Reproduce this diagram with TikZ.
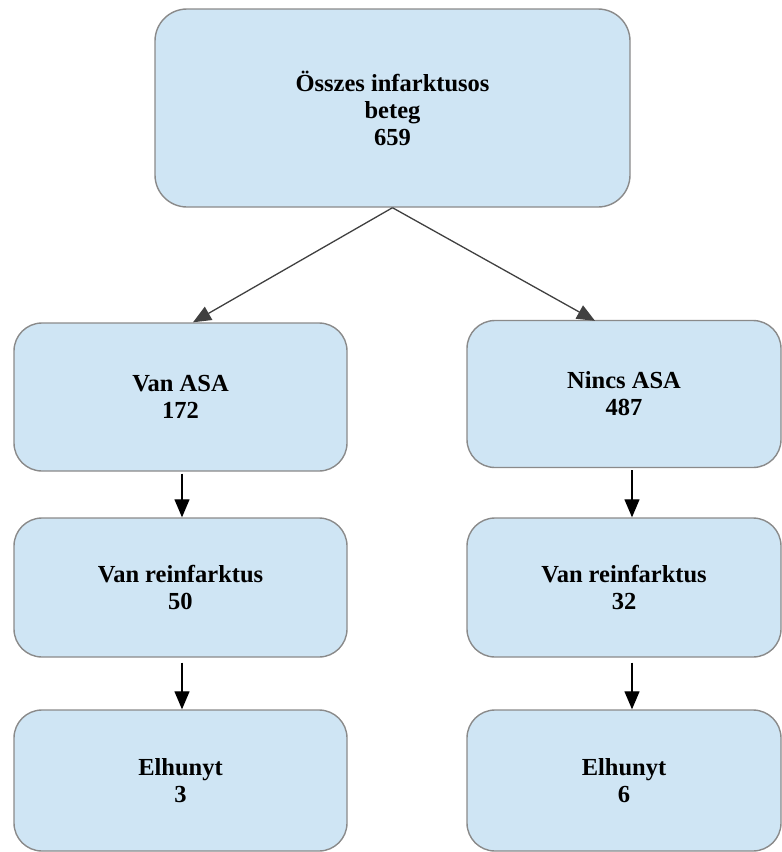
\documentclass[tikz,border=0pt]{standalone}
\usepackage{fontspec}
\setmainfont{Liberation Serif}
\usetikzlibrary{arrows.meta}
\definecolor{boxfill}{HTML}{CFE5F4}
\definecolor{boxline}{HTML}{8A8A8A}
\begin{document}
\begin{tikzpicture}[x=1pt,y=-1pt,
  box/.style={draw=boxline, line width=1.4pt, fill=boxfill, rounded corners=28pt,
    align=center, font=\fontsize{24.5}{27}\selectfont\bfseries, inner sep=0pt},
  conn/.style={-{Triangle[length=18pt,width=15pt]}, line width=1.3pt},
]
\useasboundingbox (0,0) rectangle (782,852);
\clip (0,0) rectangle (782,852);
\node[box, minimum width=475pt, minimum height=198pt, rounded corners=32pt] (top) at (392.5,108) {Összes infarktusos\\beteg\\659};
\node[box, minimum width=333pt, minimum height=148pt] (l1) at (180.5,397) {Van ASA\\172};
\node[box, minimum width=314pt, minimum height=147pt] (r1) at (624,394) {Nincs ASA\\487};
\node[box, minimum width=333pt, minimum height=139pt] (l2) at (180.5,587.5) {Van reinfarktus\\50};
\node[box, minimum width=314pt, minimum height=139pt] (r2) at (624,587.5) {Van reinfarktus\\32};
\node[box, minimum width=333pt, minimum height=141pt] (l3) at (180.5,780.5) {Elhunyt\\3};
\node[box, minimum width=314pt, minimum height=141pt] (r3) at (624,780.5) {Elhunyt\\6};
\draw[conn, draw=black!75] (top.south) -- ([xshift=12.5pt]l1.north);
\draw[conn, draw=black!75] (top.south) -- ([xshift=-29pt,yshift=-1pt]r1.north);
\draw[conn, shorten <=2pt] ([xshift=1.5pt]l1.south) -- ([xshift=1.5pt]l2.north);
\draw[conn, shorten <=2pt] ([xshift=8pt]r1.south) -- ([xshift=8pt]r2.north);
\draw[conn, shorten <=5pt] ([xshift=1.5pt]l2.south) -- ([xshift=1.5pt]l3.north);
\draw[conn, shorten <=5pt] ([xshift=8pt]r2.south) -- ([xshift=8pt]r3.north);
\end{tikzpicture}
\end{document}
